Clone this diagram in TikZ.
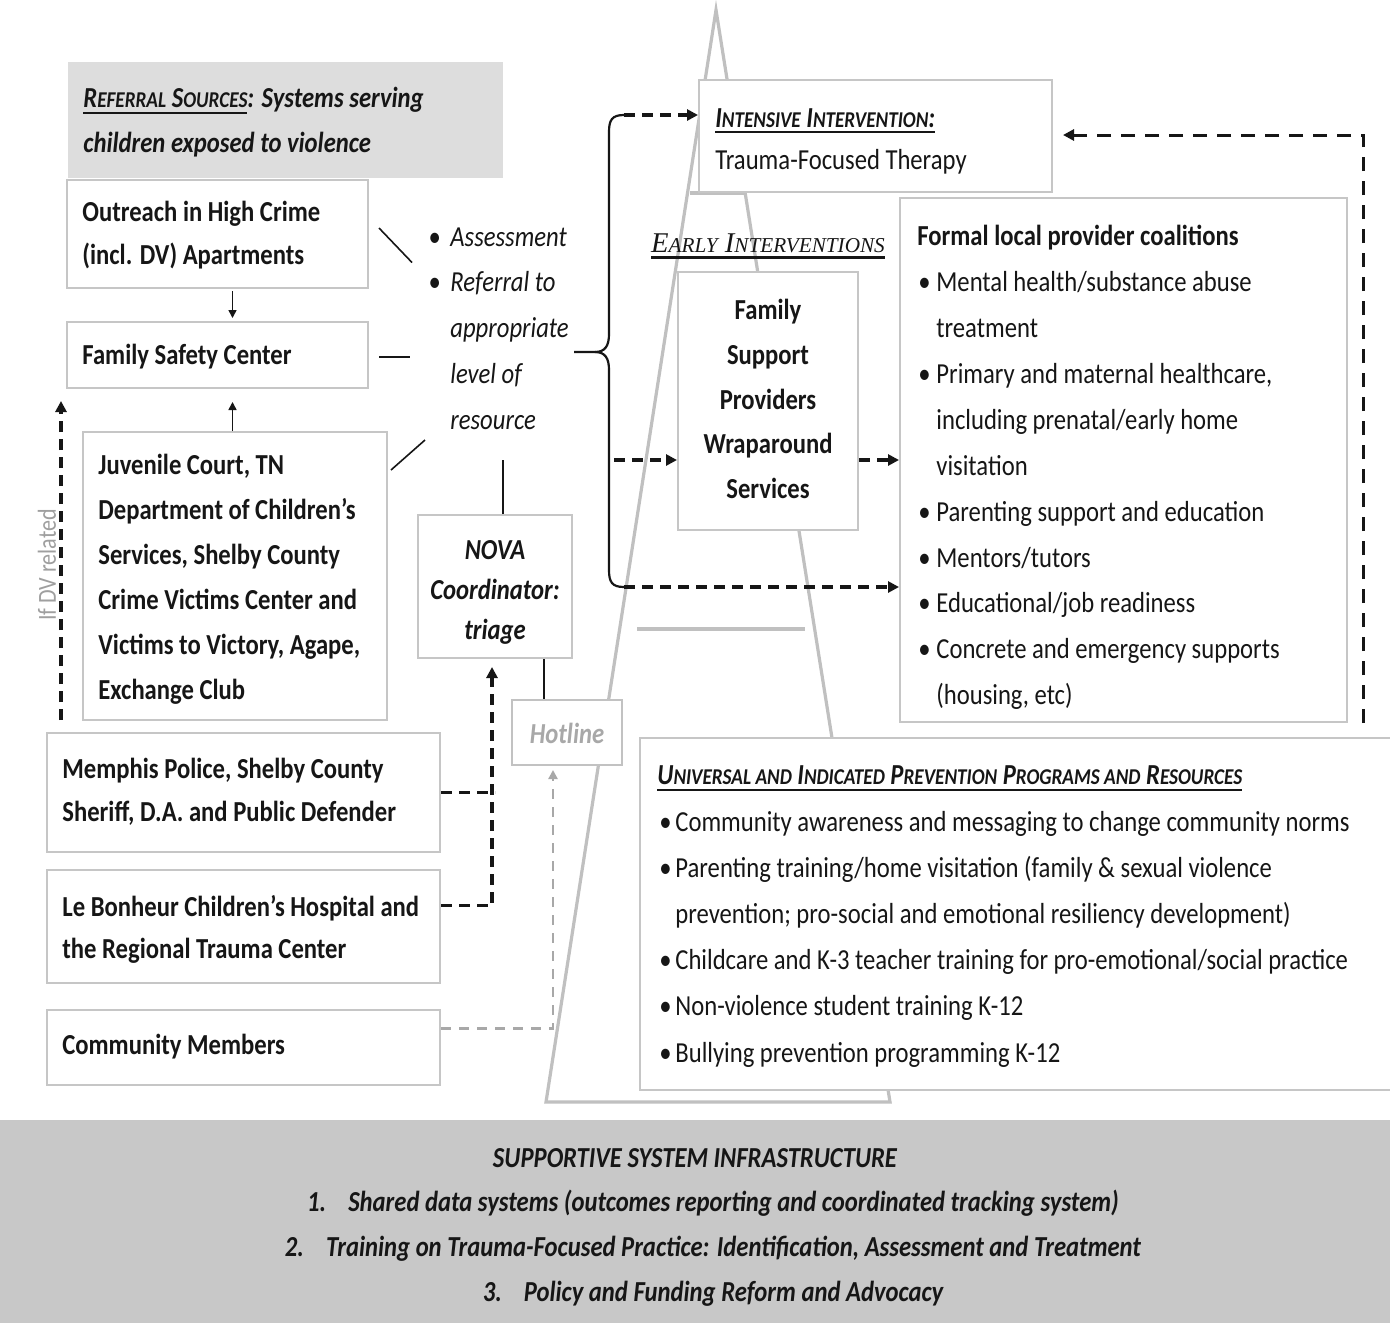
\documentclass[tikz,border=0pt]{standalone}
\usepackage{fontspec}
\setmainfont{Carlito}[FakeStretch=0.85]
\newfontfamily\timesfont{Liberation Serif}
\usetikzlibrary{calc,arrows.meta,fit}
\definecolor{bord}{HTML}{C6C6C6}
\definecolor{tri}{HTML}{C0C0C0}
\definecolor{hdr}{HTML}{DDDDDD}
\definecolor{band}{HTML}{C8C8C8}
\definecolor{ink}{HTML}{161616}
\definecolor{hot}{HTML}{A8A8A8}
\newcommand\smc{\fontsize{11.3}{11.3}\selectfont}
\newcommand\tsmc{\fontsize{10.6}{10.6}\selectfont}
\newcommand\uln[1]{\setbox0\hbox{#1}\rlap{\rule[-3.2pt]{\wd0}{1.1pt}}\box0}
\newcommand\bul[1]{\makebox[#1][l]{\textbullet}}
\newcommand\fs[1]{\fontsize{14.5}{#1}\selectfont}
\begin{document}
\begin{tikzpicture}[x=0.5pt,y=-0.5pt,
  every node/.style={text=ink},
  bx/.style={draw=bord, fill=white, line width=1pt, inner sep=0pt},
  txt/.style={align=left, inner sep=0pt, anchor=west},
  tip/.style={-{Triangle[length=5.5pt,width=5.5pt]}},
  smalltip/.style={-{Triangle[length=4pt,width=4pt]}},
  gtip/.style={-{Triangle[length=4.5pt,width=4.5pt]}},
  dsh/.style={dash pattern=on 5.5pt off 3.5pt, line width=1.7pt, draw=ink},
  dshb/.style={dash pattern=on 7pt off 5pt, line width=1.5pt, draw=ink},
  gdsh/.style={dash pattern=on 5pt off 4pt, line width=1.3pt, draw=hot},
  conn/.style={line width=0.8pt, draw=ink}]
\path[use as bounding box] (0,0) rectangle (1390,1323);
\clip (0,0) rectangle (1390,1323);
\fill[white] (0,0) rectangle (1390,1323);

% pyramid
\draw[tri, line width=1.6pt, line join=miter] (716,10) -- (546,1102) -- (890,1102) -- cycle;
\draw[tri, line width=2.2pt] (637,629) -- (805,629);
\draw[tri, line width=2.2pt] (690,193) -- (744,193);

% header
\node[fill=hdr, inner sep=0pt, fit={(68,62)(503,178)}] (hdr) {};
\node[txt, font=\fs{22.5}\bfseries\itshape] (hdrtext) at (83,122.5) {\uln{R{\smc EFERRAL} S{\smc OURCES}}: Systems serving\\children exposed to violence};

% left boxes
\node[bx, fit={(67,180)(368,288)}] (outreach) {};
\node[txt, font=\fs{21.5}\bfseries] (outreachT) at (82,235.5) {Outreach in High Crime\\(incl. DV) Apartments};
\node[bx, fit={(67,322)(368,388)}] (fsc) {};
\node[txt, font=\fs{21.5}\bfseries] (fscT) at (82,357) {Family Safety Center};
\node[bx, fit={(83,432)(387,720)}] (juv) {};
\node[txt, font=\fs{22.5}\bfseries] (juvT) at (98,579.5) {Juvenile Court, TN\\Department of Children’s\\Services, Shelby County\\Crime Victims Center and\\Victims to Victory, Agape,\\Exchange Club};
\node[bx, fit={(47,733)(440,852)}] (police) {};
\node[txt, font=\fs{21.5}\bfseries] (policeT) at (62,791.5) {Memphis Police, Shelby County\\Sheriff, D.A. and Public Defender};
\node[bx, fit={(47,870)(440,983)}] (lebon) {};
\node[txt, font=\fs{21}\bfseries] (lebonT) at (62,929) {Le Bonheur Children’s Hospital and\\the Regional Trauma Center};
\node[bx, fit={(47,1010)(440,1085)}] (comm) {};
\node[txt, font=\fs{21}\bfseries] (commT) at (62,1047) {Community Members};

% NOVA and hotline
\node[bx, fit={(418,515)(572,658)}] (nova) {};
\node[align=center, inner sep=0pt, font=\fs{20}\bfseries\itshape] (novaT) at (495,592) {NOVA\\Coordinator:\\triage};
\node[bx, draw=hot!70, fit={(512,700)(622,765)}] (hotline) {};
\node[inner sep=0pt, font=\fs{20}\bfseries\itshape, text=hot] (hotT) at (567,733) {Hotline};

% assessment text
\node[txt, font=\fs{22.9}\itshape] (assess) at (428,328.5) {\bul{11pt}Assessment\\\bul{11pt}Referral to\\\hspace*{11pt}appropriate\\\hspace*{11pt}level of\\\hspace*{11pt}resource};

% intensive
\node[bx, fit={(699,80)(1052,192)}] (intensive) {};
\node[txt, font=\fs{21}] (intensiveT) at (715,141) {\uln{\bfseries\itshape I{\smc NTENSIVE} I{\smc NTERVENTION}:}\\Trauma-Focused Therapy};

% early interventions
\node[inner sep=0pt, font=\timesfont\fontsize{14.3}{14.3}\selectfont\itshape] (early) at (768,246) {\uln{E{\tsmc ARLY} I{\tsmc NTERVENTIONS}}};
\node[bx, fit={(678,272)(858,530)}] (family) {};
\node[align=center, inner sep=0pt, font=\fs{22.3}\bfseries] (familyT) at (768,399) {Family\\Support\\Providers\\Wraparound\\Services};

% formal coalitions
\node[bx, fit={(900,198)(1347,722)}] (formal) {};
\node[txt, font=\fs{22.95}] (formalT) at (917,467.5) {\textbf{Formal local provider coalitions}\\
\hspace*{0.5pt}\bul{9pt}Mental health/substance abuse\\
\hspace*{9.5pt}treatment\\
\hspace*{0.5pt}\bul{9pt}Primary and maternal healthcare,\\
\hspace*{9.5pt}including prenatal/early home\\
\hspace*{9.5pt}visitation\\
\hspace*{0.5pt}\bul{9pt}Parenting support and education\\
\hspace*{0.5pt}\bul{9pt}Mentors/tutors\\
\hspace*{0.5pt}\bul{9pt}Educational/job readiness\\
\hspace*{0.5pt}\bul{9pt}Concrete and emergency supports\\
\hspace*{9.5pt}(housing, etc)};

% universal
\node[bx, fit={(640,738)(1400,1090)}] (univ) {};
\node[txt, font=\fs{23.1}] (univT) at (657,916.5) {\uln{\bfseries\itshape U{\smc NIVERSAL AND} I{\smc NDICATED} P{\smc REVENTION} P{\smc ROGRAMS AND} R{\smc ESOURCES}}\\
\hspace*{1pt}\bul{8pt}Community awareness and messaging to change community norms\\
\hspace*{1pt}\bul{8pt}Parenting training/home visitation (family \& sexual violence\\
\hspace*{9pt}prevention; pro-social and emotional resiliency development)\\
\hspace*{1pt}\bul{8pt}Childcare and K-3 teacher training for pro-emotional/social practice\\
\hspace*{1pt}\bul{8pt}Non-violence student training K-12\\
\hspace*{1pt}\bul{8pt}Bullying prevention programming K-12};

% band
\node[fill=band, inner sep=0pt, fit={(0,1120)(1390,1323)}] (band) {};
\node[inner sep=0pt, font=\fs{22.5}\bfseries\itshape] (infrah) at (695,1158) {SUPPORTIVE SYSTEM INFRASTRUCTURE};
\node[align=center, inner sep=0pt, font=\fs{22.5}\bfseries\itshape] (infra) at (713,1248) {1.\hspace{11pt}Shared data systems (outcomes reporting and coordinated tracking system)\\2.\hspace{11pt}Training on Trauma-Focused Practice: Identification, Assessment and Treatment\\3.\hspace{11pt}Policy and Funding Reform and Advocacy};

% DV label
\node[rotate=90, inner sep=0pt, font=\fontsize{13}{13}\selectfont, text=gray!75] (dv) at (47,565) {If DV related};

% connectors left
\draw[conn, smalltip] ($(outreach.south)+(15,2)$) -- ($(fsc.north)+(15,-3)$);
\draw[conn, smalltip] ($(juv.north)+(-2.5,0)$) -- ($(fsc.south)+(15,13)$);
\draw[dsh, tip] ($(police.north west)+(15,-12)$) -- ($(fsc.south west)+(-5,12)$);
\draw[conn] ($(outreach.east)+(10,-6)$) -- ($(assess.west)+(-16,-66)$);
\draw[conn] ($(fsc.east)+(10,2)$) -- ($(assess.west)+(-18,28.5)$);
\draw[conn] ($(juv.east)+(3,-106)$) -- ($(assess.west)+(-3,111.5)$);
\draw[conn] ($(nova.north)+(8,0)$) -- ($(assess.west)+(75,131.5)$);
\draw[conn] ($(nova.south)+(49,0)$) -- ($(hotline.north)+(-23,0)$);
\draw[dsh] (police.east) -- (police.east -| nova.south);
\draw[dsh, tip] ($(lebon.east)+(0,-21)$) -| ($(nova.south)+(-3,8)$);
\draw[gdsh, gtip] ($(comm.east)+(0,-19)$) -| ($(hotline.south)+(-14,4)$);

% brace
\coordinate (btip) at (574,352);
\coordinate (btop) at (624,115);
\coordinate (bbot) at (624,587);
\coordinate (bmid) at (614,460);
\draw[line width=1.1pt, draw=ink] (btip) -- (595,352) .. controls (605,352) and (609,346) .. (609,334) -- (609,132) .. controls (609,120) and (612,115) .. (btop);
\draw[line width=1.1pt, draw=ink] (595,352) .. controls (605,352) and (609,358) .. (609,370) -- (609,570) .. controls (609,582) and (612,587) .. (bbot);
\draw[dsh, tip] (btop) -- (btop -| intensive.west);
\draw[dsh, tip] (bmid) -- (bmid -| family.west);
\draw[dsh, tip] (bbot) -- (bbot -| formal.west);
\draw[dsh, tip] (family.east |- bmid) -- (formal.west |- bmid);
\draw[dshb, tip] ($(formal.south east)+(15,0)$) |- ($(intensive.east)+(10,-1)$);
\end{tikzpicture}
\end{document}
